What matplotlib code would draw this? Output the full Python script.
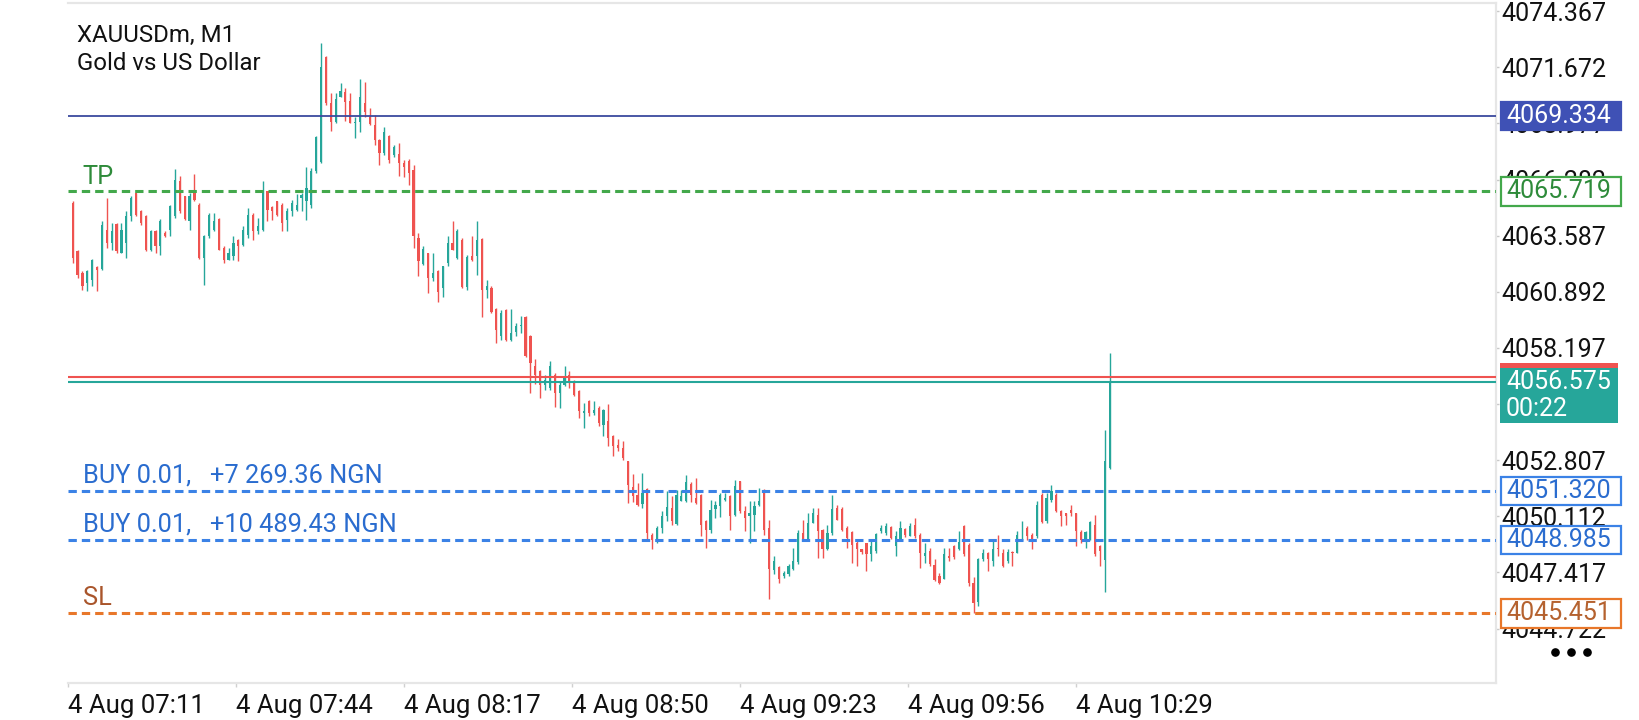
import matplotlib
matplotlib.use("Agg")
import matplotlib.pyplot as plt
import matplotlib.transforms as mtransforms
from matplotlib.patches import Rectangle
from matplotlib.lines import Line2D
import numpy as np

plt.rcParams['font.family'] = ['Roboto', 'DejaVu Sans']
plt.rcParams['lines.scale_dashes'] = False

# ---------------- data (M1 candles) ----------------
open_ = [
    4065.18, 4062.83, 4061.82, 4061.31, 4061.47, 4062.08, 4061.98, 4063.87, 4063.23, 4064.16,
    4062.78, 4063.23, 4064.51, 4065.63, 4064.75, 4064.51, 4062.91, 4063.79, 4063.07, 4063.74,
    4063.87, 4064.51, 4066.23, 4065.47, 4064.27, 4065.63, 4065.07, 4062.51, 4063.55, 4063.87,
    4064.38, 4062.99, 4062.43, 4062.59, 4063.39, 4063.15, 4063.63, 4064.59, 4063.79, 4063.87,
    4065.71, 4064.95, 4065.23, 4065.07, 4064.35, 4064.75, 4064.83, 4065.39, 4065.23, 4065.07,
    4066.67, 4067.14, 4072.18,
    4069.94, 4069.06, 4070.26, 4070.50, 4070.07, 4068.98, 4069.06, 4069.97, 4069.27, 4068.90,
    4068.18, 4067.54, 4068.39, 4067.46, 4067.51, 4067.10, 4067.19, 4066.74, 4063.47, 4062.24,
    4062.75, 4061.55, 4061.87, 4061.07, 4062.27, 4063.23, 4062.51, 4063.39, 4061.12, 4062.62,
    4062.59, 4063.42, 4060.99, 4061.07, 4060.06, 4058.75, 4060.03, 4058.56, 4058.94, 4059.26,
    4059.68, 4058.75, 4057.31, 4057.07, 4056.43, 4056.27, 4056.91, 4056.03, 4056.43, 4056.91,
    4056.59, 4056.11, 4055.07, 4055.63, 4055.07, 4055.31,
    4054.51, 4054.67, 4053.99, 4053.55, 4053.39, 4052.76, 4051.52, 4051.16, 4050.72, 4051.43,
    4049.24, 4048.87, 4049.56, 4050.12, 4050.52, 4049.75, 4050.84, 4050.84, 4051.68, 4051.00,
    4051.16, 4049.88, 4049.48, 4050.47, 4050.63, 4050.92, 4051.08, 4050.20, 4051.80, 4050.36,
    4050.12, 4050.20, 4050.68, 4051.40, 4049.56, 4047.53, 4047.69, 4047.24, 4047.32, 4047.56,
    4047.91, 4049.32, 4048.97, 4049.80, 4050.20, 4049.48, 4048.52, 4049.32, 4050.52, 4050.47,
    4049.56, 4049.35, 4048.84, 4048.52, 4048.81, 4048.28, 4048.44,
    4049.40, 4049.29, 4049.61, 4048.68, 4049.03, 4049.51, 4049.19, 4049.69, 4049.24, 4048.20,
    4048.44, 4047.77, 4047.27, 4047.11, 4048.20, 4048.68, 4048.52, 4049.64, 4048.76, 4046.92,
    4045.99, 4048.04, 4048.33, 4047.96, 4048.60, 4048.36, 4047.96, 4048.39, 4048.36, 4048.97,
    4049.56, 4049.24, 4049.16, 4051.16, 4049.88, 4050.92, 4051.16, 4050.36, 4050.25, 4050.44,
    4050.25, 4049.35, 4048.92, 4049.03, 4049.72, 4048.68, 4048.01, 4052.44,
]
high = [
    4065.23, 4062.91, 4061.87, 4061.95, 4062.46, 4062.14, 4064.27, 4065.39, 4064.19, 4064.19,
    4064.19, 4064.75, 4065.47, 4065.66, 4064.83, 4064.59, 4063.87, 4063.87, 4064.38, 4063.79,
    4065.07, 4066.78, 4066.43, 4065.50, 4065.63, 4066.55, 4065.15, 4063.63, 4064.67, 4064.67,
    4064.43, 4063.07, 4062.99, 4063.55, 4063.42, 4064.03, 4064.91, 4064.67, 4064.43, 4066.23,
    4065.75, 4064.99, 4065.27, 4065.15, 4064.91, 4065.31, 4065.59, 4065.63, 4066.87, 4066.82,
    4068.38, 4072.82, 4072.21,
    4070.42, 4070.42, 4070.90, 4070.66, 4070.42, 4069.30, 4071.09, 4070.98, 4069.70, 4069.38,
    4068.21, 4068.82, 4068.42, 4067.94, 4068.02, 4067.22, 4067.26, 4066.98, 4063.74, 4063.07,
    4062.78, 4062.75, 4061.92, 4062.14, 4063.55, 4064.30, 4063.90, 4063.47, 4062.67, 4063.55,
    4064.30, 4063.47, 4061.47, 4061.15, 4060.11, 4060.03, 4060.06, 4060.06, 4059.39, 4059.74,
    4059.71, 4058.83, 4057.66, 4057.15, 4056.91, 4057.55, 4056.99, 4056.59, 4057.31, 4057.07,
    4056.64, 4056.19, 4055.55, 4055.71, 4055.63, 4055.39,
    4055.27, 4055.52, 4054.03, 4053.83, 4053.71, 4052.79, 4052.15, 4051.72, 4052.20, 4051.48,
    4049.29, 4049.64, 4050.36, 4051.32, 4051.11, 4051.40, 4051.40, 4052.12, 4051.75, 4051.96,
    4051.20, 4049.93, 4050.92, 4050.84, 4051.24, 4051.24, 4051.16, 4051.88, 4051.83, 4050.63,
    4050.84, 4050.84, 4051.48, 4051.43, 4049.96, 4048.20, 4047.72, 4047.48, 4047.80, 4048.60,
    4049.45, 4049.93, 4050.25, 4050.52, 4050.52, 4049.51, 4049.72, 4051.16, 4050.68, 4050.57,
    4049.64, 4049.40, 4049.00, 4048.55, 4048.84, 4048.92, 4049.29,
    4049.72, 4049.77, 4049.64, 4049.40, 4049.88, 4049.56, 4049.77, 4050.04, 4049.29, 4048.84,
    4048.60, 4048.04, 4047.40, 4048.60, 4048.60, 4048.73, 4049.40, 4049.69, 4048.84, 4047.21,
    4048.12, 4048.52, 4048.39, 4049.00, 4049.24, 4048.55, 4048.55, 4048.44, 4049.40, 4049.88,
    4049.64, 4049.29, 4050.84, 4051.24, 4051.24, 4051.64, 4051.24, 4050.41, 4050.28, 4050.68,
    4050.28, 4049.45, 4049.40, 4049.88, 4050.20, 4048.76, 4054.24, 4057.97,
]
low = [
    4062.27, 4061.55, 4060.99, 4060.91, 4061.15, 4060.91, 4061.95, 4062.99, 4062.91, 4062.78,
    4062.75, 4062.51, 4064.27, 4064.51, 4064.11, 4062.83, 4062.83, 4062.78, 4062.67, 4063.52,
    4063.58, 4064.43, 4064.67, 4064.35, 4063.87, 4065.23, 4062.46, 4061.23, 4063.47, 4063.79,
    4062.88, 4062.30, 4062.40, 4062.43, 4062.35, 4063.07, 4063.47, 4063.36, 4063.68, 4063.79,
    4064.27, 4064.35, 4064.51, 4063.79, 4063.79, 4064.51, 4064.75, 4064.75, 4064.35, 4064.91,
    4066.59, 4067.10, 4069.86,
    4068.63, 4069.01, 4070.23, 4069.11, 4068.98, 4068.26, 4068.58, 4069.27, 4068.90, 4067.94,
    4066.98, 4067.46, 4067.10, 4067.38, 4066.46, 4066.42, 4066.02, 4062.99, 4061.63, 4062.19,
    4060.83, 4061.39, 4060.38, 4060.64, 4062.11, 4062.88, 4062.46, 4061.07, 4060.99, 4062.35,
    4061.71, 4059.68, 4060.59, 4059.87, 4058.43, 4058.59, 4058.51, 4058.51, 4058.75, 4058.91,
    4057.76, 4056.03, 4056.48, 4055.79, 4056.19, 4056.19, 4055.36, 4055.31, 4056.35, 4056.27,
    4055.87, 4054.83, 4054.35, 4054.91, 4054.99, 4054.43,
    4053.99, 4053.47, 4053.00, 4053.23, 4052.84, 4050.76, 4050.79, 4050.63, 4050.52, 4049.00,
    4048.55, 4048.84, 4049.32, 4049.88, 4049.72, 4049.72, 4050.84, 4050.79, 4050.79, 4050.72,
    4049.16, 4048.60, 4049.32, 4050.04, 4050.09, 4050.84, 4049.48, 4050.12, 4050.28, 4049.40,
    4048.84, 4049.40, 4050.60, 4049.24, 4046.15, 4047.32, 4046.89, 4047.16, 4047.24, 4047.53,
    4047.80, 4048.97, 4048.92, 4049.77, 4048.12, 4048.12, 4048.49, 4049.24, 4049.93, 4049.40,
    4048.60, 4047.85, 4047.72, 4048.28, 4047.48, 4047.96, 4048.36,
    4049.32, 4049.24, 4049.03, 4048.20, 4049.00, 4049.13, 4049.16, 4049.08, 4047.64, 4047.88,
    4047.72, 4047.00, 4046.86, 4047.08, 4047.96, 4048.07, 4048.49, 4048.23, 4046.79, 4045.48,
    4045.80, 4047.96, 4047.48, 4047.72, 4048.23, 4047.69, 4047.88, 4047.75, 4048.33, 4048.92,
    4048.97, 4048.52, 4049.08, 4049.80, 4049.77, 4050.79, 4050.31, 4049.64, 4049.72, 4050.12,
    4048.68, 4048.84, 4048.60, 4049.00, 4048.20, 4047.72, 4046.47, 4052.39,
]
close = [
    4062.51, 4061.71, 4061.15, 4061.87, 4062.43, 4061.95, 4064.11, 4063.23, 4063.79, 4062.83,
    4063.87, 4064.51, 4065.39, 4064.59, 4064.19, 4062.91, 4063.79, 4063.07, 4064.27, 4063.58,
    4064.99, 4066.27, 4064.75, 4064.38, 4065.47, 4065.31, 4062.51, 4063.55, 4064.59, 4064.27,
    4062.91, 4062.43, 4062.75, 4063.23, 4063.07, 4063.87, 4064.59, 4063.79, 4064.03, 4065.63,
    4064.83, 4064.75, 4064.59, 4064.19, 4064.75, 4065.15, 4065.07, 4065.55, 4065.87, 4066.67,
    4068.34, 4071.70, 4069.94,
    4069.06, 4070.13, 4070.55, 4070.02, 4069.01, 4069.06, 4070.23, 4069.54, 4068.93, 4068.18,
    4067.54, 4068.58, 4067.22, 4067.83, 4067.10, 4066.90, 4066.58, 4063.55, 4062.35, 4062.94,
    4061.55, 4061.79, 4060.86, 4062.11, 4063.26, 4062.91, 4063.83, 4061.12, 4062.56, 4062.43,
    4063.39, 4060.96, 4061.15, 4059.90, 4059.04, 4059.87, 4058.59, 4058.91, 4059.23, 4059.31,
    4057.79, 4057.47, 4056.91, 4056.43, 4056.67, 4057.31, 4056.03, 4056.43, 4056.83, 4056.59,
    4055.95, 4055.15, 4055.15, 4055.07, 4055.23, 4054.59,
    4055.20, 4053.87, 4053.47, 4053.39, 4052.91, 4051.64, 4051.08, 4050.68, 4051.24, 4049.32,
    4049.00, 4049.56, 4050.15, 4050.57, 4049.88, 4051.16, 4051.08, 4051.75, 4051.16, 4050.76,
    4049.72, 4049.48, 4050.44, 4050.68, 4051.16, 4051.00, 4050.12, 4051.59, 4050.36, 4050.04,
    4050.28, 4050.63, 4050.84, 4049.48, 4047.56, 4047.96, 4047.11, 4047.40, 4047.72, 4047.96,
    4049.32, 4049.00, 4049.80, 4050.28, 4049.40, 4048.52, 4049.32, 4050.47, 4049.96, 4049.48,
    4049.08, 4048.76, 4048.52, 4048.39, 4048.28, 4048.68, 4049.27,
    4049.56, 4049.64, 4049.08, 4049.16, 4049.56, 4049.24, 4049.64, 4049.16, 4048.36, 4048.36,
    4047.80, 4047.05, 4046.89, 4048.28, 4048.12, 4048.17, 4048.87, 4048.28, 4046.92, 4045.96,
    4048.04, 4048.33, 4048.04, 4048.52, 4048.52, 4047.72, 4048.39, 4048.33, 4049.24, 4049.03,
    4049.16, 4049.03, 4050.68, 4049.83, 4051.00, 4051.32, 4050.36, 4050.15, 4050.15, 4050.28,
    4049.40, 4049.00, 4049.35, 4049.83, 4048.28, 4048.44, 4052.76, 4056.575,
]

ytick_values = [4044.722, 4047.417, 4050.112, 4052.807, 4055.502, 4058.197,
                4060.892, 4063.587, 4066.282, 4068.977, 4071.672, 4074.367]
xtick_positions = [-0.97, 33.5, 68.0, 102.5, 137.0, 171.5, 206.0]
xtick_labels = ['4 Aug 07:11', '4 Aug 07:44', '4 Aug 08:17', '4 Aug 08:50',
                '4 Aug 09:23', '4 Aug 09:56', '4 Aug 10:29']

symbol = 'XAUUSDm, M1'
description = 'Gold vs US Dollar'
ref_price = 4069.334
tp_price = 4065.719
bid_price = 4056.575
ask_price = 4056.815
countdown = '00:22'
buy_prices = [4051.320, 4048.985]
buy_texts = ['BUY 0.01,   +7 269.36 NGN', 'BUY 0.01,   +10 489.43 NGN']
sl_price = 4045.451

# ---------------- styling ----------------
UP = '#26a69a'
DOWN = '#ef5350'
NAVY = '#3c4a9e'
INDIGO = '#3f51b5'
TP_C = '#43a84b'
TP_TXT = '#2e8b3a'
BLUE = '#3b82e6'
BLUE_TXT = '#2a6ccf'
ORANGE = '#e8772a'
SL_TXT = '#a9552b'
FRAME = '#e6e6e6'

TICK_FS = 18
BOX_FS = 18
LINE_FS = 18.3
TITLE_FS = 17.3
XTICK_FS = 18.5

fig = plt.figure(figsize=(16.4, 7.2), dpi=100)
ax = fig.add_axes([68 / 1640, 1 - 683 / 720, 1428 / 1640, 680 / 720])
ax.set_xlim(-0.97, 292.3)
ax.set_ylim(4042.11, 4074.76)

o = np.array(open_)
h = np.array(high)
l = np.array(low)
c = np.array(close)
idx = np.arange(len(o))
cols = np.where(c >= o, UP, DOWN)

ax.vlines(idx, l, h, colors=cols, lw=1.0, zorder=3)
ax.bar(idx, np.maximum(np.abs(c - o), 0.06), bottom=np.minimum(o, c),
       width=0.45, color=cols, linewidth=0, zorder=3)

# horizontal price lines
ax.axhline(ref_price, color=NAVY, lw=1.3, zorder=4)
ax.axhline(tp_price, color=TP_C, lw=2.2, dashes=(6, 3.6), zorder=4)
ax.axhline(ask_price, color=DOWN, lw=1.5, zorder=4)
ax.axhline(bid_price, color=UP, lw=1.5, zorder=4)
for p in buy_prices:
    ax.axhline(p, color=BLUE, lw=2.2, dashes=(6, 3.6), zorder=4)
ax.axhline(sl_price, color=ORANGE, lw=2.2, dashes=(6, 3.6), zorder=4)

# line labels on the left
btr = mtransforms.blended_transform_factory(ax.transAxes, ax.transData)
lab_x = 0.0103
ax.annotate('TP', xy=(lab_x, tp_price), xycoords=btr, xytext=(0, 5.5),
            textcoords='offset points', va='baseline', ha='left',
            fontsize=LINE_FS, color=TP_TXT, zorder=6)
for p, t in zip(buy_prices, buy_texts):
    ax.annotate(t, xy=(lab_x, p), xycoords=btr, xytext=(0, 6.2),
                textcoords='offset points', va='baseline', ha='left',
                fontsize=LINE_FS, color=BLUE_TXT, zorder=6)
ax.annotate('SL', xy=(lab_x, sl_price), xycoords=btr, xytext=(0, 6.2),
            textcoords='offset points', va='baseline', ha='left',
            fontsize=LINE_FS, color=SL_TXT, zorder=6)

# title
fig.text(77 / 1640, 1 - 41.7 / 720, symbol, fontsize=TITLE_FS, color='#111111', va='baseline')
fig.text(77 / 1640, 1 - 70 / 720, description, fontsize=TITLE_FS, color='#111111', va='baseline')

# axes frame / ticks
for s in ['top', 'right', 'bottom']:
    ax.spines[s].set_color(FRAME)
    ax.spines[s].set_linewidth(1.6)
ax.spines['left'].set_visible(False)

ax.yaxis.tick_right()
ax.set_yticks(ytick_values)
ax.set_yticklabels([f'{v:.3f}' for v in ytick_values])
ax.tick_params(axis='y', length=2.5, width=1, color='#c8c8c8', pad=1.5,
               labelsize=TICK_FS, labelcolor='#111111')
ax.set_xticks(xtick_positions)
ax.set_xticklabels(xtick_labels)
for t in ax.get_xticklabels():
    t.set_ha('left')
ax.tick_params(axis='x', length=3, width=1, color='#d0d0d0', pad=5,
               labelsize=XTICK_FS, labelcolor='#111111')

# price labels on the right scale
bx0 = (1501.5 - 68) / 1428
bw = 120 / 1428
tx = (1506 - 68) / 1428
hh = 14.3 / 20.83


def box_label(price, text, face, edge, tcolor):
    ax.add_patch(Rectangle((bx0, price - hh), bw, 2 * hh, transform=btr,
                           facecolor=face, edgecolor=edge, lw=1.6,
                           clip_on=False, zorder=10))
    ax.text(tx, price, text, transform=btr, va='center', ha='left',
            fontsize=BOX_FS, color=tcolor, clip_on=False, zorder=11)


box_label(ref_price, f'{ref_price:.3f}', INDIGO, INDIGO, 'white')
box_label(tp_price, f'{tp_price:.3f}', 'white', TP_C, TP_TXT)
for p in buy_prices:
    box_label(p, f'{p:.3f}', 'white', BLUE, BLUE_TXT)
box_label(sl_price, f'{sl_price:.3f}', 'white', ORANGE, '#b5622f')

# bid label (two lines) with ask strip on top
top_off = 18.7 / 20.83
bot_off = 41.3 / 20.83
ax.add_patch(Rectangle((bx0 - 1.5 / 1428, bid_price - bot_off), bw - 2 / 1428, top_off + bot_off,
                       transform=btr, facecolor=UP, edgecolor='none',
                       clip_on=False, zorder=10))
ax.add_patch(Rectangle((bx0 - 1.5 / 1428, bid_price + top_off - 5 / 20.83), bw - 2 / 1428, 5 / 20.83,
                       transform=btr, facecolor=DOWN, edgecolor='none',
                       clip_on=False, zorder=10.5))
ax.text(tx, bid_price, f'{bid_price:.3f}', transform=btr, va='center', ha='left',
        fontsize=BOX_FS, color='white', clip_on=False, zorder=11)
ax.text(tx, bid_price - 27 / 20.83, countdown, transform=btr, va='center', ha='left',
        fontsize=BOX_FS, color='white', clip_on=False, zorder=11)

# "more" dots
fig.add_artist(Line2D([1555 / 1640, 1571 / 1640, 1587 / 1640], [1 - 652 / 720] * 3,
                      transform=fig.transFigure, ls='', marker='o', ms=5.2,
                      color='black'))

fig.savefig('out.png', dpi=100)
